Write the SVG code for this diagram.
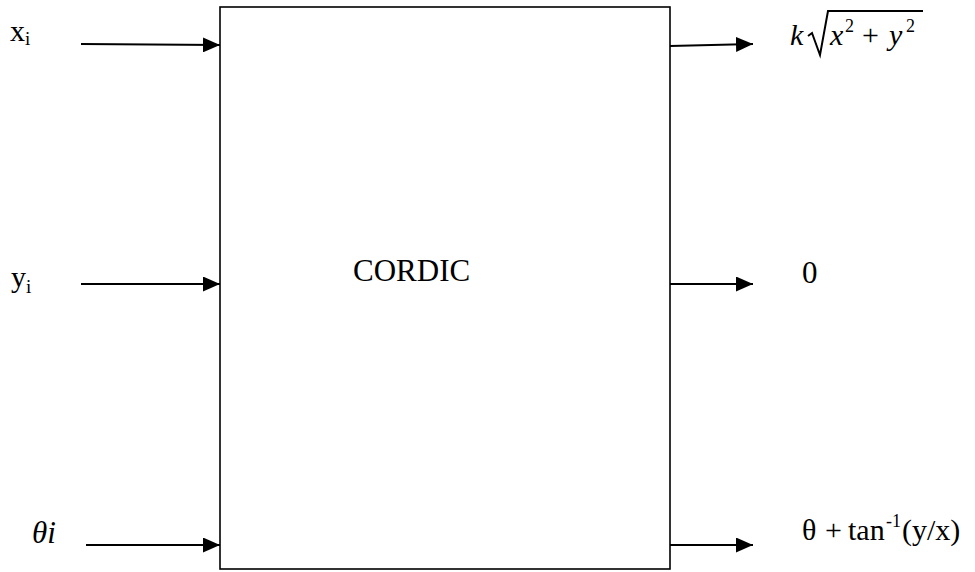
<svg xmlns="http://www.w3.org/2000/svg" width="975" height="572" viewBox="0 0 975 572">
<style>
  .it { font-style: italic; }
  .ln { stroke: #000; stroke-width: 2; fill: none; }
  .box { stroke: #000; stroke-width: 1.6; fill: #fff; }
</style>
<defs>
  <marker id="ah" markerUnits="userSpaceOnUse" markerWidth="17" markerHeight="15" refX="17" refY="7.5" orient="auto">
    <path d="M0,0 L17,7.5 L0,15 z" fill="#000"/>
  </marker>
</defs>
<rect width="975" height="572" fill="#fff"/>
<g font-family="Liberation Serif" fill="#000">
<g id="cordic">
  <rect class="box" x="220" y="7" width="450" height="562"/>
  <text x="353" y="281" font-size="31">CORDIC</text>
</g>
<g id="connectors">
  <line class="ln" x1="81" y1="44" x2="220" y2="45" marker-end="url(#ah)"/>
  <line class="ln" x1="81" y1="284" x2="220" y2="284" marker-end="url(#ah)"/>
  <line class="ln" x1="86" y1="545" x2="220" y2="545" marker-end="url(#ah)"/>
  <line class="ln" x1="670" y1="46" x2="753" y2="44" marker-end="url(#ah)"/>
  <line class="ln" x1="670" y1="284" x2="753" y2="284" marker-end="url(#ah)"/>
  <line class="ln" x1="670" y1="545" x2="753" y2="545" marker-end="url(#ah)"/>
</g>
<g id="in-x">
  <text x="10" y="41" font-size="30">x<tspan font-size="19" dy="4">i</tspan></text>
</g>
<g id="in-y">
  <text x="11" y="287" font-size="30">y<tspan font-size="19" dy="6">i</tspan></text>
</g>
<g id="in-theta">
  <text class="it" x="32" y="543" font-size="31">θi</text>
</g>
<g id="out-mag">
  <text class="it" x="790" y="45" font-size="30">k</text>
  <path class="ln" d="M808,36 L812,33 L820,55 L828,11 L923,11" stroke-width="1.6"/>
  <text class="it" x="830" y="45" font-size="30">x</text>
  <text x="845" y="32" font-size="18">2</text>
  <text x="862" y="45" font-size="30">+</text>
  <text class="it" x="889" y="45" font-size="30">y</text>
  <text x="906" y="32" font-size="18">2</text>
</g>
<g id="out-zero">
  <text x="802" y="283" font-size="31">0</text>
</g>
<g id="out-angle">
  <text y="540" font-size="30"><tspan x="802">θ</tspan><tspan x="825">+</tspan><tspan x="848">tan</tspan><tspan x="886" font-size="18" dy="-13">-1</tspan><tspan x="902" dy="13">(y/x)</tspan></text>
</g>
</g>
</svg>
